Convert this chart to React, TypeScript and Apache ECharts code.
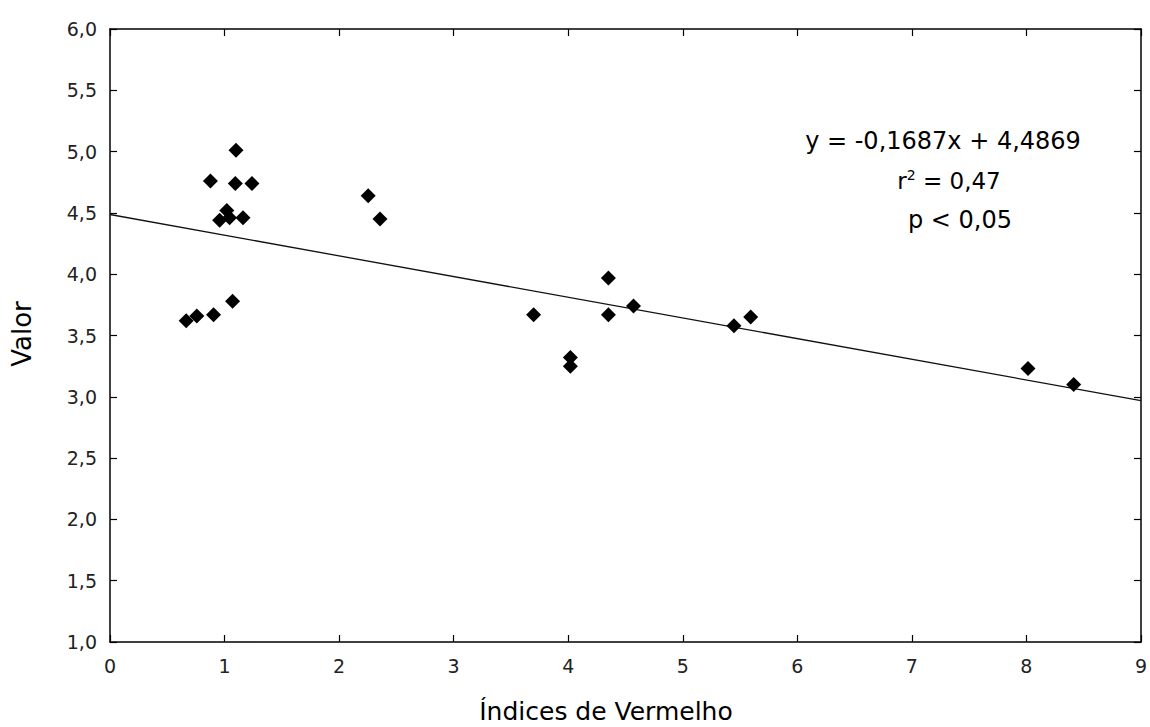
import React, { useEffect, useRef } from "react";
import * as echarts from "echarts";

const xValues = [1.10, 0.877, 1.094, 1.239, 1.02, 0.957, 1.044, 1.161, 1.07, 0.904, 0.758, 0.665, 2.254, 2.357, 3.698, 4.019, 4.019, 4.351, 4.351, 4.57, 5.447, 5.593, 8.014, 8.413];
const yValues = [5.01, 4.76, 4.74, 4.74, 4.52, 4.44, 4.46, 4.46, 3.78, 3.67, 3.66, 3.62, 4.64, 4.45, 3.67, 3.32, 3.25, 3.97, 3.67, 3.74, 3.58, 3.65, 3.23, 3.10];
const slope = -0.1687;
const intercept = 4.4869;
const lineX = [0, 9];
const equationText = "y = -0,1687x + 4,4869";
const r2Text = "0,47";
const pText = "p < 0,05";
const xName = "Índices de Vermelho";
const yName = "Valor";

const FONT = "'DejaVu Sans', sans-serif";

function axisLine() {
  return { show: true, onZero: false, lineStyle: { color: "#000", width: 1.5 } };
}
function axisTick() {
  return { show: true, inside: true, length: 7, lineStyle: { color: "#000", width: 1.2 } };
}

export default function App() {
  const ref = useRef<HTMLDivElement>(null);
  useEffect(() => {
    if (!ref.current) return;
    const chart = echarts.init(ref.current, null, { renderer: "svg" });
    const pts = xValues.map((x, i) => [x, yValues[i]]);
    const fit = lineX.map((x) => [x, slope * x + intercept]);
    chart.setOption({
      animation: false,
      backgroundColor: "#fff",
      textStyle: { fontFamily: FONT },
      grid: { left: 110, top: 29, right: 9, bottom: 85, containLabel: false },
      xAxis: [
        {
          type: "value", min: 0, max: 9, interval: 1, position: "bottom",
          axisLine: axisLine(), axisTick: axisTick(), splitLine: { show: false },
          axisLabel: { fontSize: 19, color: "#222", margin: 14, fontFamily: FONT },
        },
        {
          type: "value", min: 0, max: 9, interval: 1, position: "top",
          axisLine: axisLine(), axisTick: axisTick(), splitLine: { show: false },
          axisLabel: { show: false },
        },
      ],
      yAxis: [
        {
          type: "value", min: 1, max: 6, interval: 0.5, position: "left",
          axisLine: axisLine(), axisTick: axisTick(), splitLine: { show: false },
          axisLabel: {
            fontSize: 19, color: "#222", margin: 13, fontFamily: FONT,
            formatter: (v: number) => v.toFixed(1).replace(".", ","),
          },
        },
        {
          type: "value", min: 1, max: 6, interval: 0.5, position: "right",
          axisLine: axisLine(), axisTick: axisTick(), splitLine: { show: false },
          axisLabel: { show: false },
        },
      ],
      series: [
        {
          type: "line", data: fit, showSymbol: false, symbol: "none",
          xAxisIndex: 0, yAxisIndex: 0,
          lineStyle: { color: "#111", width: 1.3 }, z: 2,
        },
        {
          type: "scatter", data: pts, symbol: "diamond", symbolSize: 15,
          xAxisIndex: 0, yAxisIndex: 0,
          itemStyle: { color: "#000", opacity: 1 }, z: 3,
        },
      ],
      graphic: [
        {
          type: "text", x: 943, y: 141,
          style: {
            text: equationText, fontSize: 24, fill: "#000",
            fontFamily: FONT, align: "center", verticalAlign: "middle",
          },
        },
        {
          type: "text", x: 949, y: 181,
          style: {
            text: "{a|r}{s|2}{a| = " + r2Text + "}", fill: "#000", fontFamily: FONT,
            align: "center", verticalAlign: "middle",
            rich: {
              a: { fontSize: 23, fontFamily: FONT, fill: "#000" },
              s: { fontSize: 14, fontFamily: FONT, fill: "#000", verticalAlign: "top", padding: [0, 0, 12, 0] },
            },
          },
        },
        {
          type: "text", x: 960, y: 220,
          style: {
            text: pText, fontSize: 24, fill: "#000",
            fontFamily: FONT, align: "center", verticalAlign: "middle",
          },
        },
        {
          type: "text", x: 606, y: 711,
          style: {
            text: xName, fontSize: 25, fill: "#000",
            fontFamily: FONT, align: "center", verticalAlign: "middle",
          },
        },
        {
          type: "text", x: 22, y: 334, rotation: Math.PI / 2,
          style: {
            text: yName, fontSize: 26, fill: "#000",
            fontFamily: FONT, align: "center", verticalAlign: "middle",
          },
        },
      ],
    });
    return () => chart.dispose();
  }, []);
  return <div ref={ref} style={{ width: 1150, height: 727, position: "absolute", left: 0, top: 0 }} />;
}
